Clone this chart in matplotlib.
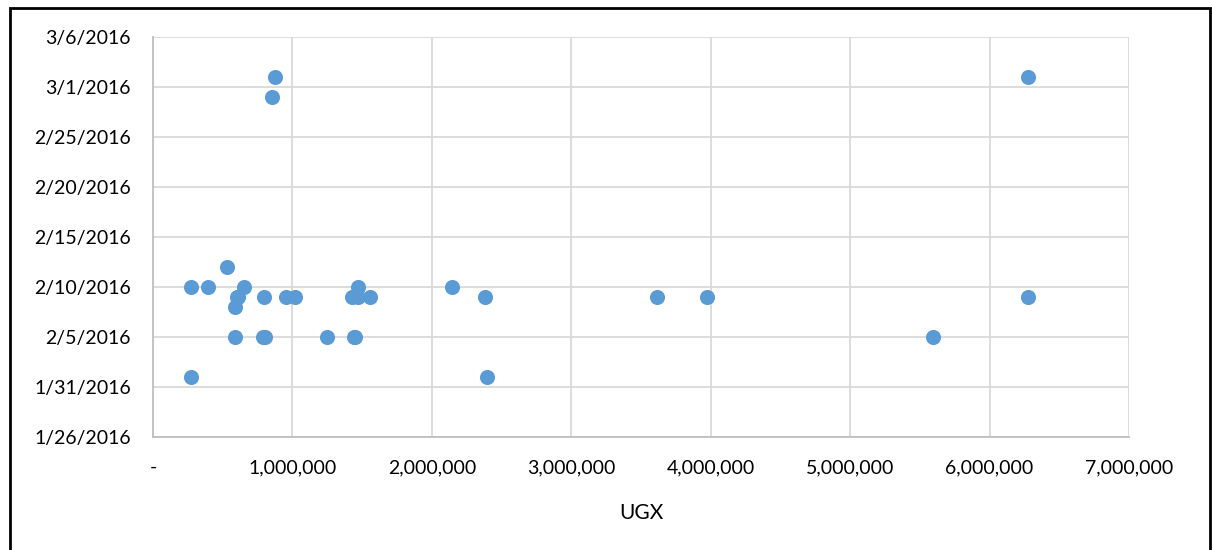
import matplotlib
matplotlib.use("Agg")
import matplotlib.pyplot as plt
import matplotlib.dates as mdates
from matplotlib.ticker import FuncFormatter, MultipleLocator, FixedLocator
from matplotlib.patches import Rectangle
import numpy as np
from datetime import datetime

# amounts in UGX and the date of each transaction
amounts = [273000, 394000, 531000, 653000, 610000, 600000, 588000, 590000,
           796000, 790000, 805000, 273000, 853000, 875000, 954000, 1018000,
           1248000, 1427000, 1470000, 1470000, 1440000, 1450000, 1556000,
           2144000, 2381000, 2395000, 3615000, 3973000, 5594000, 6276000,
           6276000]
dates = ["2/10/2016", "2/10/2016", "2/12/2016", "2/10/2016", "2/9/2016",
         "2/9/2016", "2/8/2016", "2/5/2016", "2/9/2016", "2/5/2016",
         "2/5/2016", "2/1/2016", "2/29/2016", "3/2/2016", "2/9/2016",
         "2/9/2016", "2/5/2016", "2/9/2016", "2/10/2016", "2/9/2016",
         "2/5/2016", "2/5/2016", "2/9/2016", "2/10/2016", "2/9/2016",
         "2/1/2016", "2/9/2016", "2/9/2016", "2/5/2016", "2/9/2016",
         "3/2/2016"]

y_start = datetime(2016, 1, 26)
y_end = datetime(2016, 3, 6)

plt.rcParams['font.family'] = ['Lato', 'DejaVu Sans']

fig = plt.figure(figsize=(12.12, 5.5), dpi=100)
ax = fig.add_axes([153 / 1212, 1 - 437 / 550, 976 / 1212, 400 / 550])

yv = mdates.date2num([datetime.strptime(d, "%m/%d/%Y") for d in dates])
ax.scatter(amounts, yv, s=118, color="#5B9BD5", zorder=3, linewidths=0)

y0 = mdates.date2num(y_start)
y1 = mdates.date2num(y_end)
ax.set_xlim(0, 7000000)
ax.set_ylim(y0, y1)
ax.xaxis.set_major_locator(MultipleLocator(1000000))
ax.yaxis.set_major_locator(FixedLocator(np.arange(y0, y1 + 1, 5)))


def fmt_x(v, pos):
    if v == 0:
        return "-"
    return f"{v:,.0f}"


def fmt_y(v, pos):
    d = mdates.num2date(v)
    return f"{d.month}/{d.day}/{d.year}"


ax.xaxis.set_major_formatter(FuncFormatter(fmt_x))
ax.yaxis.set_major_formatter(FuncFormatter(fmt_y))

ax.grid(True, color="#D9D9D9", linewidth=1.3, zorder=0)
for side in ["top", "right"]:
    ax.spines[side].set_visible(False)
for side in ["left", "bottom"]:
    ax.spines[side].set_color("#BFBFBF")
    ax.spines[side].set_linewidth(1.3)
ax.tick_params(length=0, labelsize=14, colors="black")
ax.tick_params(axis="x", pad=16)
ax.tick_params(axis="y", pad=16)

ax.set_xlabel("UGX", fontsize=15, labelpad=19)

# outer frame of the chart
fig.patches.append(Rectangle((10 / 1212, -0.1), 1200 / 1212, 1.1 - 8 / 550,
                             transform=fig.transFigure, fill=False,
                             edgecolor="black", linewidth=2))

fig.savefig("out.png", dpi=100)
